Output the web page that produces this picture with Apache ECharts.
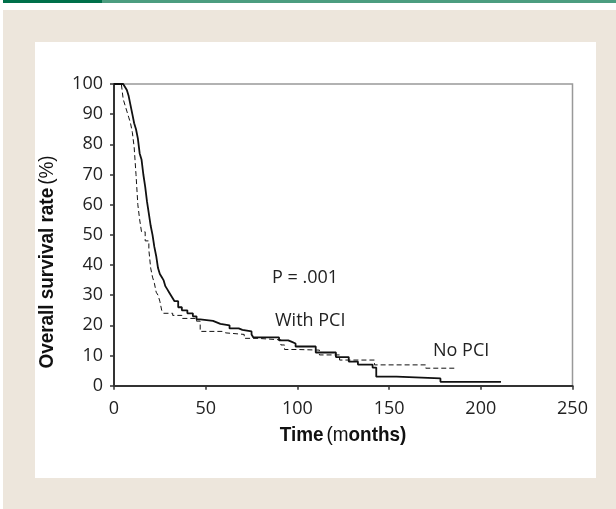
<!DOCTYPE html>
<html>
<head>
<meta charset="utf-8">
<script src="https://cdn.jsdelivr.net/npm/echarts@6/dist/echarts.min.js"></script>
<style>
body{margin:0;background:#fff;}
#wrap{position:relative;width:616px;height:509px;overflow:hidden;}
.bar1{position:absolute;left:3px;top:0;width:99px;height:3px;background:#00704a;}
.bar2{position:absolute;left:102px;top:0;width:514px;height:3px;background:#4c9d80;}
.beige{position:absolute;left:3px;top:10px;width:613px;height:499px;background:#ede6dc;}
.panel{position:absolute;left:35px;top:42px;width:561px;height:436px;background:#fff;}
#main{position:absolute;left:0;top:0;width:616px;height:509px;}
</style>
</head>
<body>
<div id="wrap">
<div class="bar1"></div><div class="bar2"></div>
<div class="beige"></div><div class="panel"></div>
<div id="main"></div>
</div>
<script>
// 数据: [月份, 生存率%]
var withPCI = [[0,100],[5,100],[6,99],[7,98],[8,96],[9,93],[10,90],[11,87],[12,85],[13,82],[14,77],[15,75],[16,70],[17,66],[18,61],[19,57],[20,53],[21,50],[22,46],[23,43],[24,39],[25,37],[26,36],[27,35],[28,33],[29,32],[30,31],[31,30],[32,29],[33,28],[35,26],[37,25],[40,24],[43,23],[45,22],[47,21.5],[54,21],[56,20.5],[58,20],[63,19],[68,18.5],[70,18],[75,17],[76,16],[90,15],[95,14.5],[97,14],[99,13],[110,11],[121,9.5],[128,8],[133,7],[141,6],[143,3],[154,2.4],[178,1.3],[211,1.3]];
var noPCI = [[0,100],[4,100],[5,95],[6,93],[7,91],[8,89],[9,87],[10,84],[11,79],[12,70],[13,60],[14,55],[15,51],[17,48],[19,45],[20,39],[21,36],[22,34],[23,31],[24,30],[25,28],[26,25],[27,24],[32,23.3],[37,22.3],[45,21.4],[47,18],[59,17.5],[61,17],[71,15.7],[78,15.2],[91,13.5],[93,12],[100,11.8],[112,10.2],[123,8.5],[142,6.9],[170,5.8],[187,5.8]];
var notes = ['P = .001', 'With PCI', 'No PCI'];

var myChart = echarts.init(document.getElementById('main'));
var tickFont = {fontFamily:'Open Sans', fontSize:18, color:'#222'};
//轴标题: 窄体加粗
var titleRich = {
    b: {fontFamily: 'Liberation Sans', fontWeight: 'bold', fontSize: 21, fill: '#111'},
    n: {fontFamily: 'Liberation Sans', fontSize: 21, fill: '#111'}
};
var option = {
    backgroundColor: 'transparent',
    animation: false,
    grid: {
        left: 114, right: 43.5, top: 84, bottom: 123.3,
        show: true, borderColor: '#999', borderWidth: 1.5, backgroundColor: 'transparent'
    },
    xAxis: {
        type: 'value', min: 0, max: 250, interval: 50,
        splitLine: {show: false},
        axisLine: {lineStyle: {color: '#333', width: 2}},
        axisTick: {length: 4, lineStyle: {color: '#333', width: 1.5}},
        axisLabel: Object.assign({margin: 14}, tickFont)
    },
    yAxis: {
        type: 'value', min: 0, max: 100, interval: 10,
        splitLine: {show: false},
        axisLine: {show: true, lineStyle: {color: '#333', width: 2}},
        axisTick: {show: true, length: 4, lineStyle: {color: '#333', width: 1.5}},
        axisLabel: Object.assign({margin: 11}, tickFont)
    },
    graphic: [
        {type: 'text', left: 272, top: 269, style: {text: notes[0], font: '18px "Open Sans"', fill: '#222'}},
        {type: 'text', left: 275, top: 312, style: {text: notes[1], font: '18px "Open Sans"', fill: '#222'}},
        {type: 'text', left: 433, top: 342, style: {text: notes[2], font: '18px "Open Sans"', fill: '#222'}},
        {type: 'text', x: 343, y: 435, scaleX: 0.9, style: {
            text: '{b|Time} {n|(m}{b|onths)}', align: 'center', verticalAlign: 'middle', rich: titleRich
        }},
        {type: 'text', x: 47, y: 262, rotation: Math.PI / 2, scaleX: 0.9, style: {
            text: '{b|Overall survival rate} {n|(%)}', align: 'center', verticalAlign: 'middle', rich: titleRich
        }}
    ],
    series: [
        {
            name: 'With PCI', type: 'line', step: 'end', data: withPCI,
            symbol: 'none', lineStyle: {color: '#111', width: 1.8}
        },
        {
            name: 'No PCI', type: 'line', step: 'end', data: noPCI,
            symbol: 'none', lineStyle: {color: '#111', width: 1, type: [5, 3]}
        }
    ]
};
myChart.setOption(option);
</script>
</body>
</html>
